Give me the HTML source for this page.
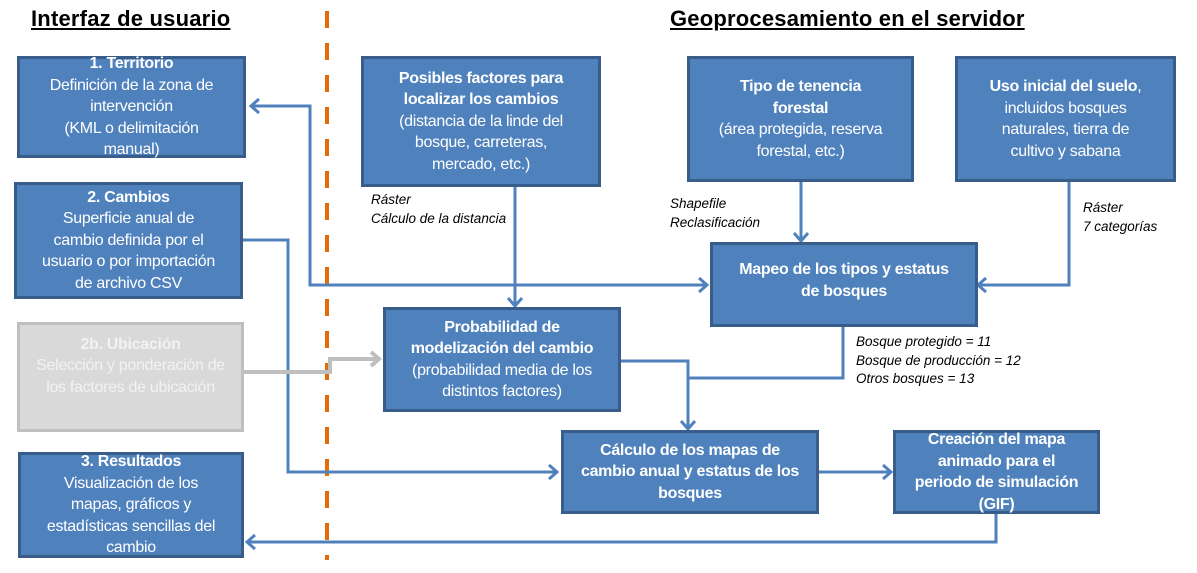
<!DOCTYPE html>
<html><head><meta charset="utf-8"><style>
body{margin:0;width:1197px;height:573px;background:#fff;position:relative;overflow:hidden;font-family:"Liberation Sans",Arial,sans-serif;}
.b{position:absolute;box-sizing:border-box;background:#4F81BD;border:3px solid #385D8A;color:#fff;display:flex;align-items:center;justify-content:center;text-align:center;font-size:16px;line-height:21.5px;letter-spacing:-0.3px;}
.b b{font-weight:bold;}
.g{background:#D9D9D9;border-color:#BFBFBF;color:#F2F2F2;}
.t{position:absolute;font-size:22px;font-weight:bold;text-decoration:underline;letter-spacing:0.2px;}
.i{position:absolute;font-style:italic;font-size:13.5px;line-height:18.5px;color:#000;}
svg{position:absolute;left:0;top:0;}
</style></head><body>
<svg width="1197" height="573">
<line x1="327" y1="11" x2="327" y2="560" stroke="#E36C0A" stroke-width="4" stroke-dasharray="17,15"/>
<g fill="none" stroke="#4F81BD" stroke-width="3">
<polyline points="251,106 310,106 310,285 706,285"/>
<polyline points="259,99 251,106 259,113"/>
<polyline points="699,278 707,285 699,292"/>
<polyline points="242,240 288,240 288,472 556,472"/>
<polyline points="549,465 557,472 549,479"/>
<polyline points="515,186 515,305"/>
<polyline points="508,298 515,306 522,298"/>
<polyline points="801,181 801,240"/>
<polyline points="794,233 801,241 808,233"/>
<polyline points="1069,181 1069,285 979,285"/>
<polyline points="986,278 978,285 986,292"/>
<polyline points="620,361 688,361 688,428"/>
<polyline points="843,326 843,378 688,378"/>
<polyline points="681,421 688,429 695,421"/>
<polyline points="819,472 890,472"/>
<polyline points="883,465 891,472 883,479"/>
<polyline points="996,513 996,542 248,542"/>
<polyline points="255,535 247,542 255,549"/>
</g>
<g fill="none" stroke="#BFBFBF" stroke-width="4">
<polyline points="243,372 330,372 330,359 378,359"/>
<polyline points="371,352 379,359 371,366"/>
</g>
</svg>
<div class="t" style="left:31px;top:6px;">Interfaz de usuario</div>
<div class="t" style="left:670px;top:6px;">Geoprocesamiento en el servidor</div>

<div class="b" style="left:17px;top:56px;width:229px;height:102px;"><div><b>1. Territorio</b><br>Definición de la zona de<br>intervención<br>(KML o delimitación<br>manual)</div></div>
<div class="b" style="left:14px;top:182px;width:229px;height:117px;"><div><b>2. Cambios</b><br>Superficie anual de<br>cambio definida por el<br>usuario o por importación<br>de archivo CSV</div></div>
<div class="b g" style="left:17px;top:322px;width:227px;height:110px;"><div style="margin-top:-22px"><b>2b. Ubicación</b><br>Selección y ponderación de<br>los factores de ubicación</div></div>
<div class="b" style="left:18px;top:452px;width:226px;height:106px;"><div><b>3. Resultados</b><br>Visualización de los<br>mapas, gráficos y<br>estadísticas sencillas del<br>cambio</div></div>

<div class="b" style="left:361px;top:56px;width:240px;height:131px;"><div><b>Posibles factores para<br>localizar los cambios</b><br>(distancia de la linde del<br>bosque, carreteras,<br>mercado, etc.)</div></div>
<div class="b" style="left:687px;top:56px;width:227px;height:126px;"><div><b>Tipo de tenencia<br>forestal</b><br>(área protegida, reserva<br>forestal, etc.)</div></div>
<div class="b" style="left:955px;top:56px;width:221px;height:126px;"><div><b>Uso inicial del suelo</b>,<br>incluidos bosques<br>naturales, tierra de<br>cultivo y sabana</div></div>
<div class="b" style="left:710px;top:242px;width:268px;height:85px;"><div style="margin-top:-8px"><b>Mapeo de los tipos y estatus<br>de bosques</b></div></div>
<div class="b" style="left:383px;top:307px;width:238px;height:105px;"><div><b>Probabilidad de<br>modelización del cambio</b><br>(probabilidad media de los<br>distintos factores)</div></div>
<div class="b" style="left:561px;top:430px;width:258px;height:84px;"><div><b>Cálculo de los mapas de<br>cambio anual y estatus de los<br>bosques</b></div></div>
<div class="b" style="left:893px;top:430px;width:207px;height:84px;"><div><b>Creación del mapa<br>animado para el<br>periodo de simulación<br>(GIF)</b></div></div>

<div class="i" style="left:371px;top:191px;">Ráster<br>Cálculo de la distancia</div>
<div class="i" style="left:670px;top:195px;">Shapefile<br>Reclasificación</div>
<div class="i" style="left:1083px;top:199px;">Ráster<br>7 categorías</div>
<div class="i" style="left:856px;top:333px;">Bosque protegido = 11<br>Bosque de producción = 12<br>Otros bosques = 13</div>
</body></html>
